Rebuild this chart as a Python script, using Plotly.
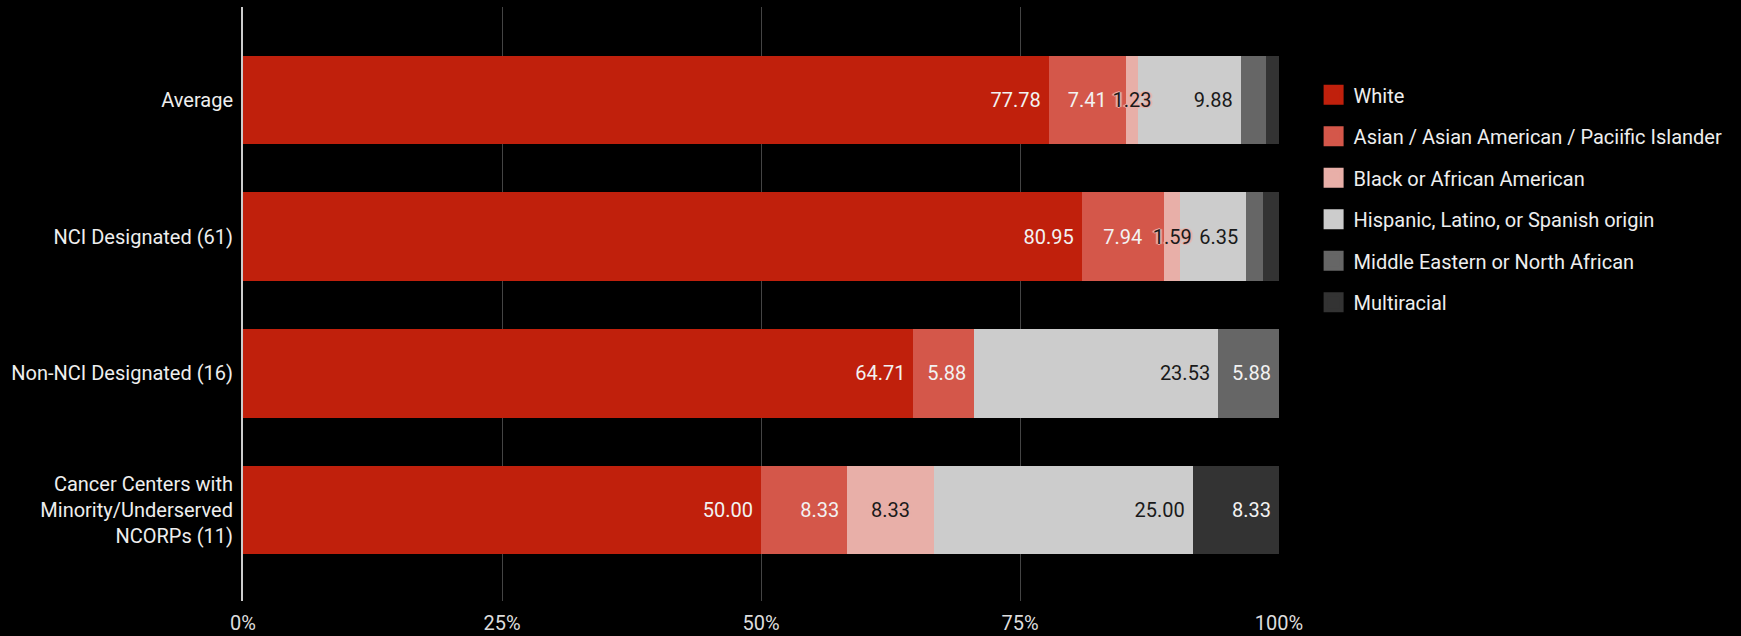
import plotly.graph_objects as go

categories = ["Average", "NCI Designated (61)", "Non-NCI Designated (16)",
              "Cancer Centers with<br>Minority/Underserved<br>NCORPs (11)"]

series_names = ["White", "Asian / Asian American / Paciific Islander",
                "Black or African American", "Hispanic, Latino, or Spanish origin",
                "Middle Eastern or North African", "Multiracial"]

white = [77.78, 80.95, 64.71, 50.00]
asian = [7.41, 7.94, 5.88, 8.33]
black = [1.23, 1.59, 0.0, 8.33]
hispanic = [9.88, 6.35, 23.53, 25.00]
middle_eastern = [2.47, 1.59, 5.88, 0.0]
multiracial = [1.23, 1.59, 0.0, 8.33]

# where each value's data label sits: "end" (right-aligned), "middle" (centred) or None (no label)
label_place = {
    "White": ["end", "end", "end", "end"],
    "Asian / Asian American / Paciific Islander": ["middle", "middle", "end", "end"],
    "Black or African American": ["middle", "middle", None, "middle"],
    "Hispanic, Latino, or Spanish origin": ["end", "end", "end", "end"],
    "Middle Eastern or North African": [None, None, "end", None],
    "Multiracial": [None, None, None, "end"],
}

values = [white, asian, black, hispanic, middle_eastern, multiracial]
colors = ["#C0200C", "#D4574A", "#E8AFA8", "#CCCCCC", "#666666", "#333333"]
text_colors = ["#F2F2F2", "#F2F2F2", "#1A1A1A", "#1A1A1A", "#F2F2F2", "#F2F2F2"]

FONT = "Roboto, Arial, sans-serif"
FS = 20

fig = go.Figure()

# main stacked bars (labels right-aligned inside their segment)
for name, vals, col, tcol in zip(series_names, values, colors, text_colors):
    places = label_place[name]
    labels = [f"{v:.2f}\u00a0" if p == "end" else "" for v, p in zip(vals, places)]
    fig.add_trace(go.Bar(
        y=categories, x=vals, name=name, orientation="h",
        marker=dict(color=col, line=dict(width=0)),
        text=labels, textposition="inside", insidetextanchor="end",
        constraintext="none", textangle=0,
        insidetextfont=dict(color=tcol, size=FS, family=FONT),
        showlegend=False, hovertemplate="%{y}<br>" + name + ": %{x:.2f}<extra></extra>",
    ))

# transparent copy of the stack on an overlaid axis, carrying the centred labels on top
for name, vals, col, tcol in zip(series_names, values, colors, text_colors):
    places = label_place[name]
    labels = [f"{v:.2f}" if p == "middle" else "" for v, p in zip(vals, places)]
    shadow = "none"
    if name == "Black or African American":
        shadow = ("1px 0 0 #E8AFA8, -1px 0 0 #E8AFA8, 0 1px 0 #E8AFA8, 0 -1px 0 #E8AFA8, "
                  "2px 0 1px #E8AFA8, -2px 0 1px #E8AFA8")
    fig.add_trace(go.Bar(
        y=categories, x=vals, name=name, orientation="h", yaxis="y2",
        marker=dict(color="rgba(0,0,0,0)", line=dict(width=0)),
        text=labels, textposition="inside", insidetextanchor="middle",
        constraintext="none", textangle=0,
        insidetextfont=dict(color=tcol, size=FS, family=FONT, shadow=shadow),
        showlegend=False, hoverinfo="skip",
    ))

# legend entries (square swatches)
for i, (name, col) in enumerate(zip(series_names, colors)):
    fig.add_trace(go.Scatter(
        x=[None], y=[None], mode="markers", name=name,
        marker=dict(symbol="square", size=16, color=col, line=dict(color=col, width=4)),
        legendgroup=f"g{i}", showlegend=True,
    ))

yaxis_common = dict(type="category", categoryorder="array", categoryarray=categories,
                    range=[3.666, -0.68], fixedrange=True)

fig.update_layout(
    width=1741, height=636,
    barmode="stack", bargap=0.353,
    paper_bgcolor="#000000", plot_bgcolor="#000000",
    margin=dict(l=243, r=462, t=7, b=35),
    font=dict(family=FONT, size=FS, color="#EEEEEE"),
    legend=dict(x=1.0334, xanchor="left", y=0.885, yanchor="top",
                font=dict(size=FS, color="#EEEEEE", family=FONT),
                tracegroupgap=12.5, bgcolor="rgba(0,0,0,0)"),
    xaxis=dict(range=[0, 100], dtick=25, ticksuffix="%", showgrid=True,
               gridcolor="#444444", gridwidth=1, zeroline=False,
               showline=False, ticks="", ticklabelstandoff=8, automargin=False,
               tickfont=dict(size=FS, color="#DDDDDD", family=FONT), fixedrange=True),
    yaxis=dict(**yaxis_common, showgrid=False, zeroline=False,
               showline=True, linecolor="#CCCCCC", linewidth=2,
               ticks="", ticklabelstandoff=4, automargin=False,
               tickfont=dict(size=FS, color="#EEEEEE", family=FONT)),
    yaxis2=dict(**yaxis_common, overlaying="y", visible=False, showgrid=False),
)

fig.write_html("out.html")
